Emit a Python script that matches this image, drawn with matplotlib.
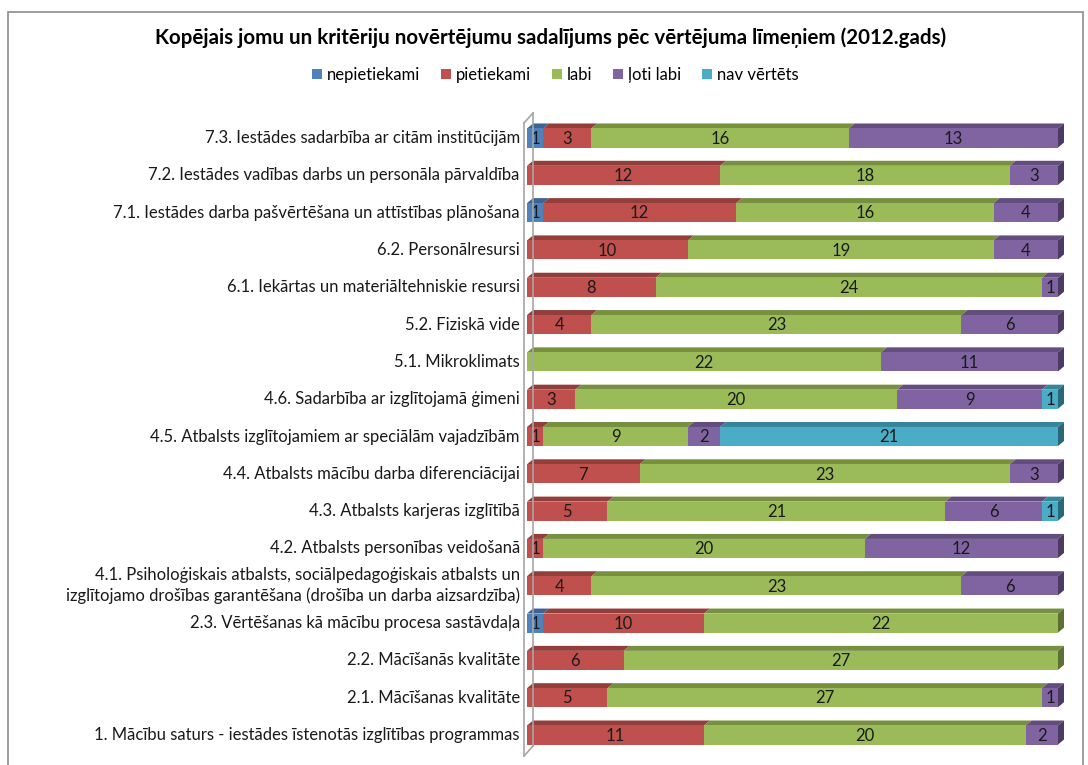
import matplotlib.pyplot as plt
from matplotlib.patches import Polygon, Rectangle
from matplotlib.lines import Line2D
import numpy as np

# categories listed bottom -> top
categories = [
    '1. Mācību saturs - iestādes īstenotās izglītības programmas',
    '2.1. Mācīšanas kvalitāte',
    '2.2. Mācīšanās kvalitāte',
    '2.3. Vērtēšanas kā mācību procesa sastāvdaļa',
    '4.1. Psiholoģiskais atbalsts, sociālpedagoģiskais atbalsts un\nizglītojamo drošības garantēšana (drošība un darba aizsardzība)',
    '4.2. Atbalsts personības veidošanā',
    '4.3. Atbalsts karjeras izglītībā',
    '4.4. Atbalsts mācību darba diferenciācijai',
    '4.5. Atbalsts izglītojamiem ar speciālām vajadzībām',
    '4.6. Sadarbība ar izglītojamā ģimeni',
    '5.1. Mikroklimats',
    '5.2. Fiziskā vide',
    '6.1. Iekārtas un materiāltehniskie resursi',
    '6.2. Personālresursi',
    '7.1. Iestādes darba pašvērtēšana un attīstības plānošana',
    '7.2. Iestādes vadības darbs un personāla pārvaldība',
    '7.3. Iestādes sadarbība ar citām institūcijām',
]
series_names = ['nepietiekami', 'pietiekami', 'labi', 'ļoti labi', 'nav vērtēts']
nepietiekami = [0, 0, 0, 1, 0, 0, 0, 0, 0, 0, 0, 0, 0, 0, 1, 0, 1]
pietiekami = [11, 5, 6, 10, 4, 1, 5, 7, 1, 3, 0, 4, 8, 10, 12, 12, 3]
labi = [20, 27, 27, 22, 23, 20, 21, 23, 9, 20, 22, 23, 24, 19, 16, 18, 16]
loti_labi = [2, 1, 0, 0, 6, 12, 6, 3, 2, 9, 11, 6, 1, 4, 4, 3, 13]
nav_vertets = [0, 0, 0, 0, 0, 0, 1, 0, 21, 1, 0, 0, 0, 0, 0, 0, 0]

front_cols = ['#4F81BD', '#C0504D', '#9BBB59', '#8064A2', '#4BACC6']
top_cols = ['#3B6494', '#943E3B', '#76903F', '#624D7E', '#36869B']
side_cols = ['#2E4F75', '#73302E', '#5C7131', '#4B3B61', '#2A6878']

W, H = 1088, 765
fig = plt.figure(figsize=(W / 100, H / 100), dpi=100)
plt.rcParams['font.family'] = ['Lato', 'DejaVu Sans']

# outer chart border
fig.patches.append(Rectangle((8 / W, -0.01), 1075 / W, 1 - 12 / H + 0.01,
                             transform=fig.transFigure, fill=False,
                             edgecolor='#8C8C8C', lw=1.2))

ax = fig.add_axes([527 / W, 1 - 757.4 / H, 531 / W, 641.8 / H])
ax.set_xlim(0, 33)
ax.set_ylim(-0.6, 16.6)
ax.axis('off')

data = [nepietiekami, pietiekami, labi, loti_labi, nav_vertets]
y = np.arange(len(categories))
h = 0.51
dx = 6 / (531 / 33)
dy = 5 / 37.31

left = np.zeros(len(categories))
for k, vals in enumerate(data):
    vals = np.array(vals)
    ax.barh(y, vals, left=left, height=h, color=front_cols[k], linewidth=0, zorder=2)
    for i in range(len(categories)):
        if vals[i] == 0:
            continue
        x0, x1 = left[i], left[i] + vals[i]
        top = Polygon([(x0, y[i] + h / 2), (x1, y[i] + h / 2),
                       (x1 + dx, y[i] + h / 2 + dy), (x0 + dx, y[i] + h / 2 + dy)],
                      closed=True, facecolor=top_cols[k], edgecolor='none',
                      zorder=1, clip_on=False)
        ax.add_patch(top)
        ax.text((x0 + x1) / 2, y[i] - 0.02, str(vals[i]), ha='center', va='center',
                fontsize=12, color='#1a1a1a', zorder=3)
    left = left + vals

# right side faces of last segment in every row
for i in range(len(categories)):
    last = max(k for k in range(5) if data[k][i] > 0)
    end = left[i]
    side = Polygon([(end, y[i] - h / 2), (end, y[i] + h / 2),
                    (end + dx, y[i] + h / 2 + dy), (end + dx, y[i] - h / 2 + dy)],
                   closed=True, facecolor=side_cols[last], edgecolor='none',
                   zorder=1, clip_on=False)
    ax.add_patch(side)

# category labels
for i, lab in enumerate(categories):
    ax.text(-0.45, y[i], lab, ha='right', va='center', fontsize=12,
            color='#1a1a1a', linespacing=1.35)

# 3D wall lines (figure pixels)
def px(xp, yp):
    return xp / W, 1 - yp / H
wall = [((524, 123), (524, 756)), ((533, 113), (533, 746)),
        ((524, 123), (533, 113)), ((524, 756), (533, 746))]
for a, b in wall:
    xa, ya = px(*a)
    xb, yb = px(*b)
    fig.lines.append(Line2D([xa, xb], [ya, yb], transform=fig.transFigure,
                            color='#A6A6A6', lw=1.2, zorder=0))

fig.text(551 / W, 1 - 38 / H,
         'Kopējais jomu un kritēriju novērtējumu sadalījums pēc vērtējuma līmeņiem (2012.gads)',
         ha='center', va='center', fontsize=14.8, fontweight='bold', color='black')

handles = [Rectangle((0, 0), 1, 1, facecolor=c, edgecolor='none') for c in front_cols]
fig.legend(handles, series_names, loc='center', bbox_to_anchor=(555 / W, 1 - 75 / H),
           ncol=5, frameon=False, fontsize=12, handlelength=0.6, handleheight=0.6,
           handletextpad=0.3, columnspacing=1.25)

fig.savefig('out.png', dpi=100)
